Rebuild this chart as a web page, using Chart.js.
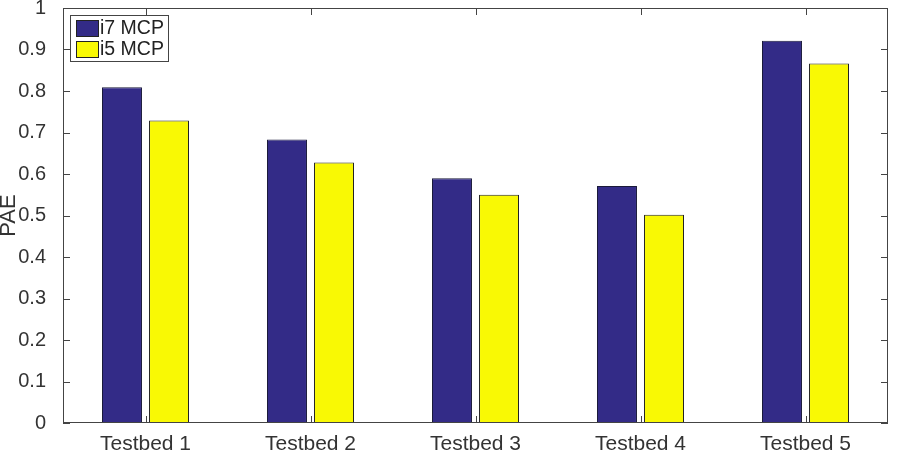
<!DOCTYPE html>
<html><head><meta charset="utf-8">
<script src="https://cdn.jsdelivr.net/npm/chart.js@4"></script>
<style>html,body{margin:0;padding:0;background:#fff}#wrap{width:903px;height:462px}</style>
</head><body><div id="wrap"><canvas id="c" width="903" height="462"></canvas></div>
<script>
const categories = ["Testbed 1","Testbed 2","Testbed 3","Testbed 4","Testbed 5"];
const i7Values = [0.809, 0.683, 0.590, 0.571, 0.921];
const i5Values = [0.729, 0.628, 0.550, 0.502, 0.866];
const seriesNames = ["i7 MCP","i5 MCP"];
const yTicks = [0,0.1,0.2,0.3,0.4,0.5,0.6,0.7,0.8,0.9,1];

const FONT = "'Liberation Sans', Arial, sans-serif";
const frame = {
  id:'frame',
  afterDraw(chart){
    const {ctx, chartArea:a, scales:{x,y}} = chart;
    ctx.save();
    ctx.strokeStyle = '#444'; ctx.lineWidth = 1;
    ctx.strokeRect(a.left+0.5, a.top+0.5, a.right-a.left-1, a.bottom-a.top-1);
    ctx.beginPath();
    yTicks.forEach(v=>{const py=Math.round(y.getPixelForValue(v))+0.5;
      ctx.moveTo(a.left,py);ctx.lineTo(a.left+7,py);
      ctx.moveTo(a.right,py);ctx.lineTo(a.right-7,py);});
    categories.forEach((c,i)=>{const px=Math.round(x.getPixelForValue(i))+0.5;
      ctx.moveTo(px,a.bottom);ctx.lineTo(px,a.bottom-7);
      ctx.moveTo(px,a.top);ctx.lineTo(px,a.top+7);});
    ctx.stroke();
    // legend
    const lx=a.left+7, ly=a.top+7, lw=98, lh=46;
    ctx.fillStyle='#fff'; ctx.fillRect(lx,ly,lw,lh);
    ctx.strokeStyle='#444'; ctx.strokeRect(lx+0.5,ly+0.5,lw,lh);
    chart.data.datasets.forEach((ds,i)=>{
      const ry=ly+5+i*21;
      ctx.fillStyle=ds.backgroundColor; ctx.fillRect(lx+6,ry,22,16);
      ctx.strokeStyle='#222'; ctx.strokeRect(lx+6.5,ry+0.5,22,16);
      ctx.fillStyle='#222'; ctx.font='19.5px '+FONT; ctx.textBaseline='middle'; ctx.textAlign='left';
      ctx.fillText(ds.label, lx+30, ry+9);
    });
    ctx.restore();
  }
};
new Chart(document.getElementById('c'),{
  type:'bar',
  data:{labels:categories,datasets:[
    {label:seriesNames[0],data:i7Values,backgroundColor:'#332b87',borderColor:'#1a1a3a',borderWidth:1},
    {label:seriesNames[1],data:i5Values,backgroundColor:'#f9f904',borderColor:'#222',borderWidth:1}
  ]},
  options:{
    responsive:false,animation:false,
    layout:{padding:{top:0,right:15,left:0,bottom:0}},
    categoryPercentage:0.57,barPercentage:0.85,
    plugins:{legend:{display:false},tooltip:{enabled:false}},
    scales:{
      x:{grid:{display:false},border:{display:false},
        ticks:{color:'#333',font:{family:FONT,size:21},padding:1},
        afterFit(s){s.height=39;s.paddingLeft=0;s.paddingRight=0;}},
      y:{min:0,max:1,grid:{display:false},border:{display:false},
        afterBuildTicks(s){s.ticks=yTicks.map(v=>({value:v}));},
        ticks:{color:'#333',font:{family:FONT,size:20},padding:9,callback:v=>String(+v.toFixed(1))},
        title:{display:true,text:'PAE',color:'#333',font:{family:FONT,size:22,lineHeight:0.82},padding:{top:0,bottom:0}},
        afterFit(s){s.width=63;s.paddingTop=8;s.paddingBottom=0;}}
    }
  },
  plugins:[frame]
});
</script></body></html>
